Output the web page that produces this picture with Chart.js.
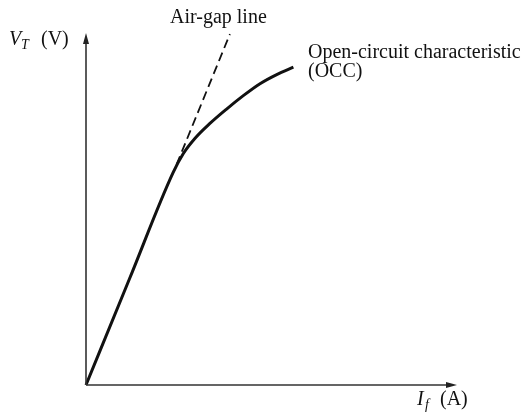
<!DOCTYPE html>
<html>
<head>
<meta charset="utf-8">
<script src="https://cdn.jsdelivr.net/npm/chart.js@4.4.1/dist/chart.umd.min.js"></script>
<style>
html,body{margin:0;padding:0;background:#fff;}
canvas{display:block;}
</style>
</head>
<body>
<canvas id="c" width="528" height="412"></canvas>
<script>
// Field current (arbitrary units) and terminal voltage (arbitrary units)
const occIf = [0, 1.17, 2.35, 2.62, 2.94, 3.34, 3.79, 4.24, 4.69, 5.14, 5.59];
const occVt = [0, 3.01, 6.04, 6.57, 7.01, 7.43, 7.84, 8.22, 8.56, 8.82, 9.03];
const airIf = [2.44, 3.88];
const airVt = [6.26, 9.97];
const axisMax = 10;
const labels = {
  airGap: "Air-gap line",
  occ1: "Open-circuit characteristic",
  occ2: "(OCC)",
  yMain: "V", ySub: "T", yUnit: "(V)",
  xMain: "I", xSub: "f", xUnit: "(A)"
};

const toPts = (xs, ys) => xs.map((x, i) => ({x: x, y: ys[i]}));

const SERIF = '"Liberation Serif", "DejaVu Serif", serif';

const decor = {
  id: 'decor',
  afterDraw(chart) {
    const ctx = chart.ctx;
    const xs = chart.scales.x, ys = chart.scales.y;
    const x0 = xs.getPixelForValue(0), y0 = ys.getPixelForValue(0);
    const xEnd = xs.getPixelForValue(axisMax), yEnd = ys.getPixelForValue(axisMax);
    ctx.save();
    ctx.strokeStyle = '#333';
    ctx.fillStyle = '#222';
    ctx.lineWidth = 1.6;
    ctx.beginPath();
    ctx.moveTo(x0, y0); ctx.lineTo(xEnd - 6, y0);
    ctx.moveTo(x0, y0); ctx.lineTo(x0, yEnd + 6);
    ctx.stroke();
    // arrowheads
    ctx.beginPath();
    ctx.moveTo(xEnd, y0); ctx.lineTo(xEnd - 11, y0 - 3); ctx.lineTo(xEnd - 11, y0 + 3); ctx.closePath();
    ctx.fill();
    ctx.beginPath();
    ctx.moveTo(x0, yEnd); ctx.lineTo(x0 - 3, yEnd + 11); ctx.lineTo(x0 + 3, yEnd + 11); ctx.closePath();
    ctx.fill();

    // texts
    ctx.fillStyle = '#111';
    ctx.textBaseline = 'alphabetic';
    ctx.textAlign = 'left';
    ctx.font = '20px ' + SERIF;
    ctx.fillText(labels.airGap, 170, 23);
    ctx.fillText(labels.occ1, 308, 58);
    ctx.fillText(labels.occ2, 308, 77);

    // y label
    ctx.font = 'italic 20px ' + SERIF;
    ctx.fillText(labels.yMain, 9, 45);
    ctx.font = 'italic 14px ' + SERIF;
    ctx.fillText(labels.ySub, 21, 49);
    ctx.font = '20px ' + SERIF;
    ctx.fillText(labels.yUnit, 41, 45);

    // x label
    ctx.font = 'italic 20px ' + SERIF;
    ctx.fillText(labels.xMain, 417, 405);
    ctx.font = 'italic 14px ' + SERIF;
    ctx.fillText(labels.xSub, 425, 409);
    ctx.font = '20px ' + SERIF;
    ctx.fillText(labels.xUnit, 440, 405);
    ctx.restore();
  }
};

new Chart(document.getElementById('c'), {
  type: 'scatter',
  data: {
    datasets: [
      {
        label: 'OCC',
        data: toPts(occIf, occVt),
        showLine: true,
        borderColor: '#111',
        borderWidth: 3,
        pointRadius: 0,
        cubicInterpolationMode: 'monotone',
        fill: false
      },
      {
        label: 'Air-gap line',
        data: toPts(airIf, airVt),
        showLine: true,
        borderColor: '#111',
        borderWidth: 1.8,
        borderDash: [9, 5],
        pointRadius: 0,
        fill: false
      }
    ]
  },
  options: {
    responsive: false,
    animation: false,
    clip: false,
    layout: { padding: { left: 86, top: 33, right: 71, bottom: 27 } },
    plugins: { legend: { display: false }, tooltip: { enabled: false } },
    scales: {
      x: { type: 'linear', min: 0, max: axisMax, display: false },
      y: { type: 'linear', min: 0, max: axisMax, display: false }
    }
  },
  plugins: [decor]
});
</script>
</body>
</html>
